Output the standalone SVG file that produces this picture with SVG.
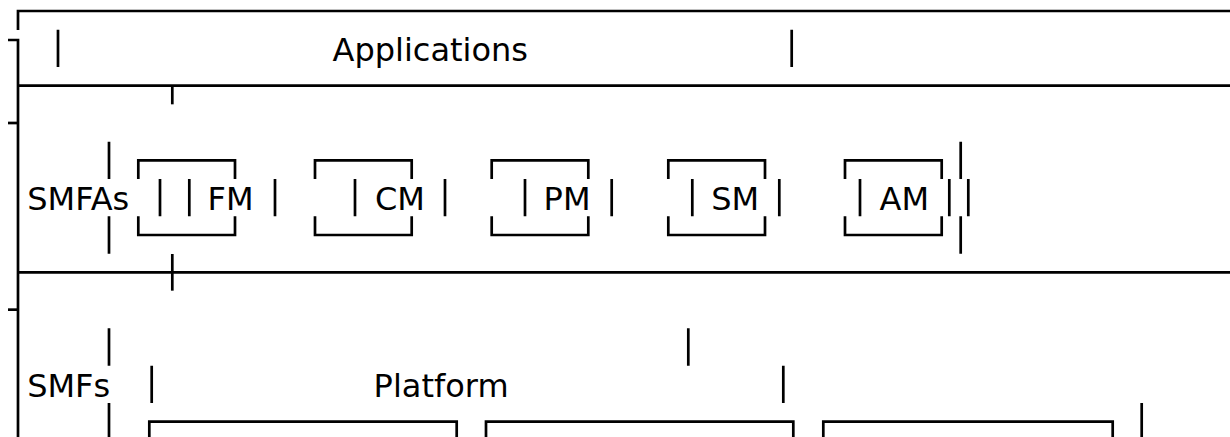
<svg xmlns="http://www.w3.org/2000/svg" width="1230" height="437" viewBox="0 0 1230 437">
<style>
.ln{fill:none;stroke:#000;stroke-width:2.7;stroke-linecap:butt;stroke-linejoin:miter}
.tx{font-family:"DejaVu Sans","Liberation Sans",sans-serif;font-size:32px;fill:#000}
</style>
<rect width="1230" height="437" fill="#fff"/>
<g id="frame" class="ln">
<path d="M18,30 V11 H1230"/>
<path d="M8,40 H18 V437"/>
<path d="M18,85.67 H1230"/>
<path d="M8,123 H18"/>
<path d="M18,272.33 H1230"/>
<path d="M8,309.67 H18"/>
<path d="M172.3,85.67 V104.33"/>
<path d="M172.3,254 V290.67"/>
</g>
<g id="applications">
<path class="ln" d="M58,29.67 V67 M791.7,29.67 V67"/>
<text class="tx" x="332.5" y="61">Applications</text>
</g>
<g id="smfas">
<path class="ln" d="M109,141.67 V179 M109,216.33 V253.67 M960.7,141.67 V179 M960.7,216.33 V253.67"/>
<text class="tx" x="27.3" y="210">SMFAs</text>
</g>
<g id="fm">
<path class="ln" d="M138.3,179 V160.33 H235 V179 M138.3,216.33 V235 H235 V216.33"/>
<text class="tx" x="207.6" y="210">FM</text>
</g>
<g id="cm">
<path class="ln" d="M315,179 V160.33 H411.7 V179 M315,216.33 V235 H411.7 V216.33"/>
<text class="tx" x="375" y="210">CM</text>
</g>
<g id="pm">
<path class="ln" d="M491.7,179 V160.33 H588.3 V179 M491.7,216.33 V235 H588.3 V216.33"/>
<text class="tx" x="543.6" y="210">PM</text>
</g>
<g id="sm">
<path class="ln" d="M668.3,179 V160.33 H765 V179 M668.3,216.33 V235 H765 V216.33"/>
<text class="tx" x="711.2" y="210">SM</text>
</g>
<g id="am">
<path class="ln" d="M845,179 V160.33 H941.7 V179 M845,216.33 V235 H941.7 V216.33"/>
<text class="tx" x="879.5" y="210">AM</text>
</g>
<g id="connectors" class="ln">
<path d="M160,179 V216.33 M189.3,179 V216.33 M275,179 V216.33 M355,179 V216.33 M445,179 V216.33 M525,179 V216.33 M611.7,179 V216.33 M692.3,179 V216.33 M779.3,179 V216.33 M860,179 V216.33 M949.3,179 V216.33 M968.3,179 V216.33"/>
<path d="M688.3,328.33 V365.67 M151.7,365.67 V403 M783.3,365.67 V403 M1141.7,403 V437"/>
</g>
<g id="smfs">
<path class="ln" d="M109,328.33 V365.67 M109,403 V437"/>
<text class="tx" x="27.2" y="396.8">SMFs</text>
</g>
<g id="platform">
<text class="tx" x="373.6" y="396.8">Platform</text>
</g>
<g id="platform-box-1"><path class="ln" d="M149.3,437 V421.67 H456.7 V437"/></g>
<g id="platform-box-2"><path class="ln" d="M486,437 V421.67 H793.3 V437"/></g>
<g id="platform-box-3"><path class="ln" d="M823.3,437 V421.67 H1112.7 V437"/></g>
</svg>
